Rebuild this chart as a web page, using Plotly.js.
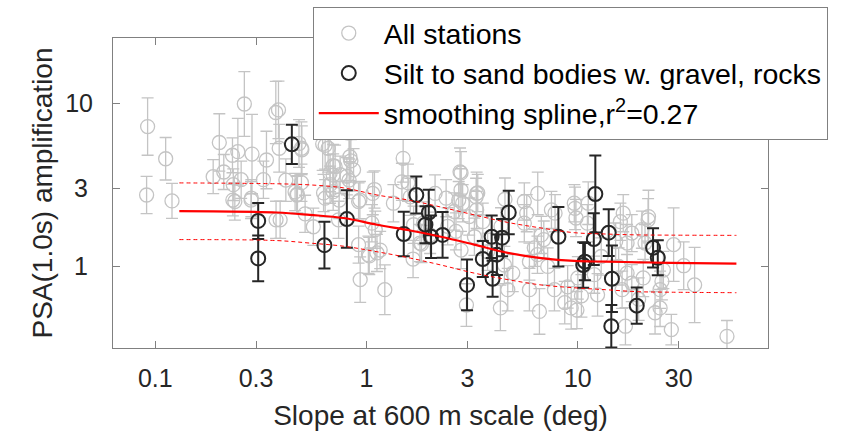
<!DOCTYPE html>
<html>
<head>
<meta charset="utf-8">
<script src="https://cdn.plot.ly/plotly-3.0.1.min.js"></script>
<style>html,body{margin:0;padding:0;background:#fff;}#chart{width:850px;height:432px;}</style>
</head>
<body>
<div id="chart"></div>
<script>
// ---- All stations (gray) ----
const grayX = [0.092,0.112,0.091,0.12,0.188,0.201,0.211,0.232,0.234,0.246,0.255,0.264,0.287,0.285,0.325,0.336,0.372,0.386,0.415,0.471,
0.492,0.479,0.492,0.62,0.658,0.238,0.695,0.695,0.827,0.834,0.827,0.695,0.742,0.93,1.07,1.49,1.47,1.57,0.383,0.637,
0.494,0.83,0.843,0.71,0.75,0.672,0.672,0.807,0.868,1.09,0.459,0.626,2.11,2.77,2.8,2.73,3.32,3.32,4.52,5.73,
6.46,7.8,9.7,11.2,21.6,0.39,0.467,0.512,0.637,0.737,0.917,0.917,0.933,1.02,1.06,1.1,1.12,1.16,1.22,1.34,
1.61,1.67,1.79,1.86,2.0,2.38,2.65,2.6,2.42,3.06,3.24,3.3,2.85,2.8,3.55,3.74,4.33,4.3,4.66,4.49,
4.92,5.58,5.58,5.9,5.9,6.22,6.58,6.72,6.9,7.2,7.5,7.75,8.67,8.95,9.3,9.62,9.8,10.0,10.4,11.1,
11.96,12.4,12.9,6.44,15.9,16.4,15.1,17.1,18.0,20.8,20.1,21.5,17.1,18.0,16.2,19.4,20.4,15.6,23.2,24.5,
24.5,25.4,25.0,27.7,28.4,31.7,35.7,50.8,2.97,9.9,16.8,1.03,1.66,1.82,0.233,0.284,0.373,2.8,3.36,0.56];
const grayY = [7.2,4.57,2.74,2.52,3.55,5.75,3.79,4.8,3.17,5.05,3.4,9.9,4.88,2.62,3.4,4.49,8.78,5.3,3.38,2.77,
5.3,5.67,3.26,5.62,5.3,2.5,3.63,4.14,6.83,4.7,3.38,2.87,2.55,2.55,2.8,4.6,3.3,3.26,9.1,5.52,
5.19,6.56,4.44,4.1,3.65,3.73,3.17,3.57,3.91,2.96,2.86,2.82,2.8,3.8,2.94,2.55,2.8,2.22,2.58,2.12,
2.8,2.12,2.27,2.44,2.02,1.93,2.74,2.1,2.62,1.93,1.36,2.5,0.83,1.18,1.84,1.68,1.21,1.26,0.72,2.44,
2.67,1.8,1.39,1.84,1.56,2.62,1.64,2.17,1.76,2.02,1.52,2.67,2.44,1.26,1.88,1.23,1.76,0.557,0.72,1.02,
0.91,2.5,1.84,0.72,1.07,1.3,0.53,1.56,1.46,1.0,2.22,0.72,0.6,0.75,0.557,2.44,1.98,0.85,0.66,1.84,
0.89,0.67,1.15,1.18,1.88,2.12,1.42,1.39,1.6,1.39,1.68,1.93,0.91,0.79,0.72,0.63,0.85,1.0,0.52,0.557,
0.72,0.95,0.81,0.41,1.36,1.01,0.77,0.373,0.58,0.54,0.43,1.16,1.11,1.37,2.55,2.55,1.93,3.74,2.82,1.75];
const grayErr = [1.5,1.35,1.3,1.28,1.27,1.5,1.28,1.28,1.25,1.6,1.3,1.58,1.75,1.3,1.3,1.5,1.55,1.4,1.35,1.3,
1.45,1.4,1.3,1.45,1.4,1.3,1.35,1.35,1.5,1.4,1.3,1.3,1.3,1.3,1.35,1.4,1.3,1.3,1.5,1.4,
1.4,1.5,1.35,1.35,1.3,1.3,1.3,1.3,1.35,1.3,1.3,1.3,1.3,1.4,1.35,1.3,1.35,1.3,1.35,1.3,
1.35,1.3,1.35,1.35,1.45,1.3,1.3,1.3,1.3,1.3,1.3,1.3,1.38,1.3,1.3,1.3,1.3,1.3,1.42,1.3,
1.3,1.3,1.3,1.35,1.3,1.3,1.3,1.3,1.3,1.3,1.3,1.3,1.3,1.3,1.3,1.3,1.3,1.38,1.35,1.3,
1.3,1.3,1.3,1.35,1.3,1.3,1.38,1.3,1.3,1.3,1.3,1.35,1.35,1.35,1.35,1.3,1.3,1.35,1.35,1.3,
1.3,1.35,1.3,1.3,1.3,1.3,1.3,1.3,1.3,1.3,1.3,1.35,1.3,1.3,1.3,1.35,1.3,1.3,1.35,1.3,
1.3,1.3,1.3,1.24,1.68,1.4,1.7,1.25,1.35,1.3,1.3,1.3,1.3,1.3,1.25,1.3,1.3,1.35,1.3,1.3];

// ---- Silt to sand bodies w. gravel, rocks (black) ----
const blackX = [0.307,0.307,0.443,0.632,0.807,1.50,1.72,1.97,1.9,2.02,2.29,2.99,3.55,3.91,3.95,4.14,4.38,4.71,8.09,10.6,
10.8,11.9,12.1,14.0,14.5,14.4,19.0,22.7,23.9];
const blackY = [1.9,1.12,5.6,1.35,1.95,1.58,2.74,2.14,1.8,1.52,1.56,0.77,1.11,1.52,0.84,1.18,1.5,2.14,1.52,1.02,
1.07,1.47,2.78,1.61,0.84,0.43,0.575,1.3,1.13];
const blackErr = [1.29,1.38,1.32,1.39,1.5,1.37,1.3,1.38,1.3,1.35,1.38,1.43,1.29,1.35,1.29,1.33,1.3,1.36,1.52,1.38,
1.3,1.44,1.72,1.39,1.6,1.35,1.29,1.32,1.28];

// ---- Smoothing spline with bounds ----
const splX  = [0.13,0.376,0.539,0.778,1.12,1.61,2.25,3.23,4.66,6.70,9.61,13.5,19.3,27.4,56.3];
const splY  = [2.18,2.14,2.07,1.98,1.80,1.66,1.52,1.36,1.21,1.125,1.08,1.07,1.06,1.05,1.04];
const splUp = [3.25,3.21,3.16,3.03,2.74,2.54,2.31,2.07,1.86,1.72,1.61,1.58,1.56,1.555,1.55];
const splLo = [1.46,1.44,1.39,1.33,1.23,1.125,1.02,0.91,0.83,0.77,0.74,0.72,0.70,0.695,0.69];

const xTickVals = [0.1,0.3,1,3,10,30];
const xTickText = ['0.1','0.3','1','3','10','30'];
const yTickVals = [1,3,10];
const yTickText = ['1\u2009','3\u2009','10'];

function errPlus(y, f){ return y.map((v,i)=>v*f[i]-v); }
function errMinus(y, f){ return y.map((v,i)=>v-v/f[i]); }

const FONT = 'Liberation Sans, Arial, Helvetica, sans-serif';
const GRAY = '#c4c4c4';
const DARK = '#262626';

const traces = [
  {x: grayX, y: grayY, type:'scatter', mode:'markers', name:'All stations',
   marker:{symbol:'circle-open', size:14, color:GRAY, line:{width:1.3, color:GRAY}},
   error_y:{type:'data', symmetric:false, array: errPlus(grayY,grayErr), arrayminus: errMinus(grayY,grayErr),
            color:GRAY, thickness:1.3, width:6}},
  {x: blackX, y: blackY, type:'scatter', mode:'markers', name:'Silt to sand bodies w. gravel, rocks',
   marker:{symbol:'circle-open', size:14, color:DARK, line:{width:2, color:DARK}},
   error_y:{type:'data', symmetric:false, array: errPlus(blackY,blackErr), arrayminus: errMinus(blackY,blackErr),
            color:DARK, thickness:2, width:6}},
  {x: splX, y: splY, type:'scatter', mode:'lines', name:'smoothing spline,r<sup>2</sup>=0.27',
   line:{color:'#ff0000', width:2.2, shape:'spline'}},
  {x: splX, y: splUp, type:'scatter', mode:'lines', showlegend:false,
   line:{color:'#ff0000', width:1, dash:'4px,3px', shape:'spline'}},
  {x: splX, y: splLo, type:'scatter', mode:'lines', showlegend:false,
   line:{color:'#ff0000', width:1, dash:'4px,3px', shape:'spline'}}
];

const layout = {
  width:850, height:432,
  margin:{l:113, r:82, t:38, b:84, pad:0, autoexpand:false},
  paper_bgcolor:'#ffffff', plot_bgcolor:'#ffffff',
  font:{family:FONT, color:DARK},
  showlegend:true,
  legend:{x:0.305, y:1.1, xanchor:'left', yanchor:'top', bgcolor:'#ffffff',
          bordercolor:'#808080', borderwidth:1, font:{family:FONT, size:28.5, color:'#000000'},
          itemwidth:60, tracegroupgap:0},
  xaxis:{type:'log', range:[-1.2,1.9], tickvals:xTickVals, ticktext:xTickText,
         ticks:'inside', ticklen:7, tickcolor:'#808080', showline:true, linecolor:'#808080', linewidth:1,
         mirror:'ticks', showgrid:false, zeroline:false, tickfont:{size:25, color:DARK, family:FONT},
         ticklabelstandoff:8,
         title:{text:'Slope at 600 m scale (deg)', font:{size:28, color:DARK, family:FONT}, standoff:14}},
  yaxis:{type:'log', range:[-0.5,1.4], tickvals:yTickVals, ticktext:yTickText,
         ticks:'inside', ticklen:7, tickcolor:'#808080', showline:true, linecolor:'#808080', linewidth:1,
         mirror:'ticks', showgrid:false, zeroline:false, tickfont:{size:25, color:DARK, family:FONT},
         ticklabelstandoff:14,
         title:{text:'PSA(1.0s) amplification', font:{size:28, color:DARK, family:FONT}, standoff:4}}
};

Plotly.newPlot('chart', traces, layout, {displayModeBar:false, staticPlot:true});
</script>
</body>
</html>
